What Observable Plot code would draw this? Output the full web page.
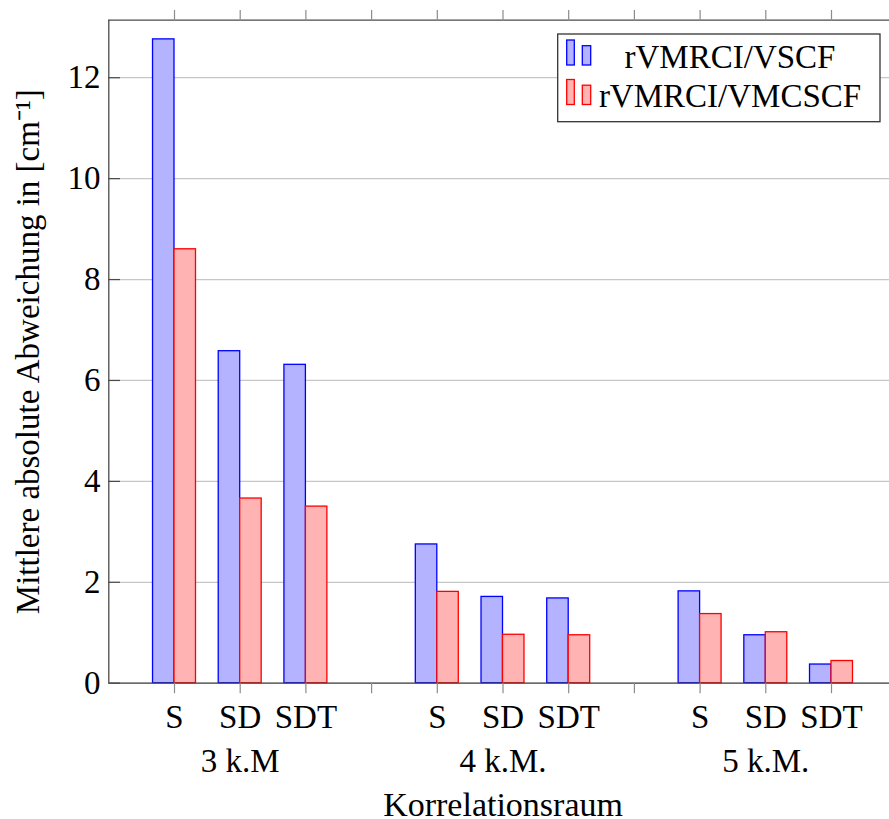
<!DOCTYPE html>
<html><head><meta charset="utf-8">
<script src="https://cdn.jsdelivr.net/npm/d3@7"></script>
<script src="https://cdn.jsdelivr.net/npm/@observablehq/plot@0.6"></script>
<style>html,body{margin:0;padding:0;background:#fff;overflow:hidden}
svg text{font-family:'Liberation Serif',serif !important}</style>
</head><body><div id="chart"></div>
<script>
// ---- data ----
const groups = ["3 k.M", "4 k.M.", "5 k.M."];
const methods = ["S", "SD", "SDT"];
const seriesNames = ["rVMRCI/VSCF", "rVMRCI/VMCSCF"];
const vscf   = [12.76, 6.58, 6.31, 2.75, 1.71, 1.68, 1.82, 0.95, 0.37];
const vmcscf = [8.60, 3.66, 3.50, 1.81, 0.96, 0.95, 1.37, 1.01, 0.44];
const yTicks = [0, 2, 4, 6, 8, 10, 12];
const xLabel = "Korrelationsraum";
const yLabel = "Mittlere absolute Abweichung in [cm\u207B\u00B9]";

// ---- derived ----
const per = methods.length + 1;              // slots per group incl. gap
const nSlots = groups.length * per - 1;      // 11 tick positions
const slots = d3.range(1, nSlots + 1);
const slotLabel = s => ((s - 1) % per) < methods.length ? methods[(s - 1) % per] : "";
const rows = [];
groups.forEach((g, gi) => methods.forEach((m, mi) => {
  const slot = gi * per + mi + 1;
  rows.push({slot, series: 0, value: vscf[gi * methods.length + mi]});
  rows.push({slot, series: 1, value: vmcscf[gi * methods.length + mi]});
}));
const groupSlots = groups.map((g, gi) => gi * per + 2);
const bw = 0.327;
const yMax = 13.14;
const fills = ["#b3b3ff", "#ffb3b3"];
const strokes = ["#0000ff", "#ff0000"];
const frameColor = "#4a4a4a";
const tickColor = "#8c8c8c";
const font = "'Liberation Serif', serif";

const chart = Plot.plot({
  width: 889, height: 819,
  marginLeft: 108.3, marginRight: 0, marginTop: 19.7, marginBottom: 136.3,
  style: {fontFamily: font, fontSize: "33px", background: "white", color: "black"},
  x: {type: "linear", domain: [0, nSlots + 1], range: [108.3, 896.7]},
  y: {domain: [0, yMax]},
  marks: [
    Plot.gridY(yTicks, {stroke: "#c6c6c6", strokeOpacity: 1, strokeWidth: 1.2}),
    Plot.rectY(rows.filter(d => d.series === 0), {x1: d => d.slot - bw, x2: d => d.slot, y1: 0, y2: "value",
      fill: fills[0], stroke: strokes[0], strokeWidth: 1.3}),
    Plot.rectY(rows.filter(d => d.series === 1), {x1: d => d.slot, x2: d => d.slot + bw, y1: 0, y2: "value",
      fill: fills[1], stroke: strokes[1], strokeWidth: 1.3}),
    Plot.ruleY([0], {stroke: frameColor, strokeWidth: 1.3}),
    Plot.ruleY([yMax], {stroke: frameColor, strokeWidth: 1.3}),
    Plot.ruleX([0], {stroke: frameColor, strokeWidth: 1.3}),
    Plot.axisX(slots, {anchor: "top", tickSize: 10.7, tickFormat: () => "", label: null, stroke: tickColor, strokeWidth: 1.2}),
    Plot.axisX(slots, {anchor: "bottom", tickSize: 10.5, tickPadding: 10.7, tickFormat: slotLabel, label: null, stroke: tickColor, strokeWidth: 1.2, fontFamily: font}),
    Plot.axisX(groupSlots, {anchor: "bottom", tickSize: 0, tickPadding: 65.6, tickFormat: s => groups[(s - 2) / per], label: null, fontFamily: font}),
    Plot.axisY(yTicks, {anchor: "left", tickSize: 0, tickPadding: 8.3, tickFormat: d => String(d), label: null, fontFamily: font}),
    Plot.axisY(yTicks, {anchor: "left", tickSize: 11.7, dx: 11.7, tickFormat: () => "", label: null, stroke: frameColor, strokeWidth: 1.2}),
    Plot.text([xLabel], {frameAnchor: "bottom", textAnchor: "middle", dy: 132.5, dx: 3.9, fontSize: 34, fontFamily: font}),
    Plot.text([yLabel], {frameAnchor: "left", textAnchor: "middle", rotate: -90, dx: -79.9, fontSize: 33, fontFamily: font})
  ]
});

// legend (pgfplots-style box, top right)
const svg = d3.select(chart);
const lg = svg.append("g");
lg.append("rect").attr("x", 557.7).attr("y", 34).attr("width", 322.3).attr("height", 87.7)
  .attr("fill", "white").attr("stroke", "#333").attr("stroke-width", 1.3);
seriesNames.forEach((name, i) => {
  const off = i * 39.5;
  lg.append("rect").attr("x", 566.7).attr("y", 40 + off).attr("width", 7.6).attr("height", 25)
    .attr("fill", fills[i]).attr("stroke", strokes[i]).attr("stroke-width", 1.3);
  lg.append("rect").attr("x", 582.3).attr("y", 45.7 + off).attr("width", 8.4).attr("height", 19.3)
    .attr("fill", fills[i]).attr("stroke", strokes[i]).attr("stroke-width", 1.3);
  lg.append("text").attr("x", 730).attr("y", 67.5 + off).attr("text-anchor", "middle")
    .attr("font-size", 33).attr("fill", "black").text(name);
});
svg.selectAll("text").style("font-family", font);

document.getElementById("chart").append(chart);
</script>
</body></html>
